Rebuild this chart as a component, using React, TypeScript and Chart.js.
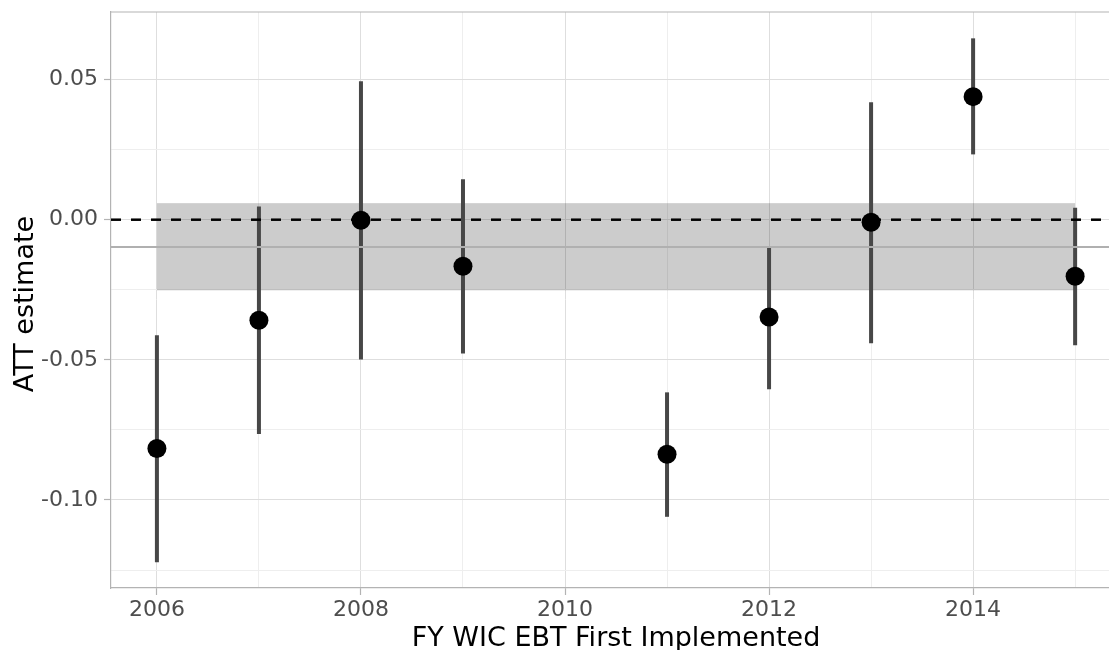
import React, { useEffect, useRef } from "react";
import { Chart, registerables } from "chart.js";

Chart.register(...registerables);

// ---- data ----
const years = [2006, 2007, 2008, 2009, 2011, 2012, 2013, 2014, 2015];
const attEstimate = [-0.0816, -0.0359, -0.0002, -0.0166, -0.0837, -0.0347, -0.0009, 0.0439, -0.0202];
const ciLower = [-0.1222, -0.0765, -0.0499, -0.0477, -0.106, -0.0605, -0.0441, 0.0233, -0.0448];
const ciUpper = [-0.0412, 0.0047, 0.0494, 0.0144, -0.0616, -0.0095, 0.0419, 0.0647, 0.0043];

const overallAtt = -0.0097;
const overallLower = -0.0252;
const overallUpper = 0.0059;
const bandYears = [2006, 2015];

const xTickValues = [2006, 2007, 2008, 2009, 2010, 2011, 2012, 2013, 2014, 2015];
const yTickValues = [-0.125, -0.1, -0.075, -0.05, -0.025, 0, 0.025, 0.05];

// visible x range (the panel continues past the right edge of the picture, to 2015.45)
const xRange = [2005.55, 2015.332];
const xPanelEnd = 2015.45;
const yRange = [-0.1314, 0.0741];

const xTitle = "FY WIC EBT First Implemented";
const yTitle = "ATT estimate";

const FONT = "'DejaVu Sans', sans-serif";
const MAJOR_GRID = "#dedede";
const MINOR_GRID = "#eeeeee";
const AXIS_GREY = "#b3b3b3";

const CANVAS_W = 1109;
const CANVAS_H = 650;

const isMajorY = (v: number) => Math.abs(Math.round(v / 0.05) * 0.05 - v) < 1e-9;
const isMajorX = (v: number) => Math.round(v) % 2 === 0;

const overlayPlugin = {
  id: "overlay",
  beforeDatasetsDraw(chart: any) {
    const { ctx, chartArea: a, scales } = chart;
    const x = scales.x;
    const y = scales.y;
    ctx.save();
    ctx.beginPath();
    ctx.rect(a.left, a.top, a.right - a.left, a.bottom - a.top);
    ctx.clip();

    // overall CI band
    const bx0 = x.getPixelForValue(bandYears[0]);
    const bx1 = x.getPixelForValue(bandYears[1]);
    const by0 = y.getPixelForValue(overallUpper);
    const by1 = y.getPixelForValue(overallLower);
    ctx.fillStyle = "rgba(0,0,0,0.2)";
    ctx.fillRect(bx0, by0, bx1 - bx0, by1 - by0);

    // error bars
    ctx.strokeStyle = "#474747";
    ctx.lineWidth = 4;
    ctx.lineCap = "butt";
    years.forEach((yr, i) => {
      const px = x.getPixelForValue(yr);
      ctx.beginPath();
      ctx.moveTo(px, y.getPixelForValue(ciUpper[i]));
      ctx.lineTo(px, y.getPixelForValue(ciLower[i]));
      ctx.stroke();
    });

    // overall ATT line
    const oy = y.getPixelForValue(overallAtt);
    ctx.strokeStyle = "#b0b0b0";
    ctx.lineWidth = 2;
    ctx.beginPath();
    ctx.moveTo(a.left, oy);
    ctx.lineTo(a.right, oy);
    ctx.stroke();

    // zero dashed line
    const zy = y.getPixelForValue(0);
    ctx.strokeStyle = "#000000";
    ctx.lineWidth = 2.5;
    ctx.setLineDash([10, 10]);
    ctx.beginPath();
    ctx.moveTo(a.left, zy);
    ctx.lineTo(a.right, zy);
    ctx.stroke();
    ctx.restore();
  },
  afterDraw(chart: any) {
    const { ctx, chartArea: a } = chart;
    ctx.save();
    // top border of the panel (left/bottom come from the axes)
    ctx.strokeStyle = AXIS_GREY;
    ctx.lineWidth = 1.2;
    ctx.beginPath();
    ctx.moveTo(a.left, a.top);
    ctx.lineTo(a.right, a.top);
    ctx.stroke();

    // axis titles (centred on the full panel, which runs past the picture edge)
    const x = chart.scales.x;
    const panelRight = x.getPixelForValue(xPanelEnd);
    ctx.fillStyle = "#000000";
    ctx.font = `27px ${FONT}`;
    ctx.textAlign = "center";
    ctx.textBaseline = "alphabetic";
    ctx.fillText(xTitle, (a.left + panelRight) / 2, 646);

    ctx.translate(33, (a.top + a.bottom) / 2 + 4);
    ctx.rotate(-Math.PI / 2);
    ctx.fillText(yTitle, 0, 0);
    ctx.restore();
  },
};

export default function App() {
  const canvasRef = useRef<HTMLCanvasElement | null>(null);

  useEffect(() => {
    if (!canvasRef.current) return;
    const chart = new Chart(canvasRef.current, {
      type: "scatter",
      data: {
        datasets: [
          {
            label: "ATT",
            data: years.map((yr, i) => ({ x: yr, y: attEstimate[i] })),
            backgroundColor: "#000000",
            borderWidth: 0,
            pointRadius: 9.5,
            pointHoverRadius: 9.5,
            clip: false,
          },
        ],
      },
      options: {
        responsive: false,
        maintainAspectRatio: false,
        animation: false,
        events: [],
        layout: { autoPadding: false, padding: { top: 12, left: 0, right: 0, bottom: 0 } },
        plugins: {
          legend: { display: false },
          tooltip: { enabled: false },
          title: { display: false },
        },
        scales: {
          x: {
            type: "linear",
            min: xRange[0],
            max: xRange[1],
            afterBuildTicks: (s: any) => {
              s.ticks = xTickValues.map((v) => ({ value: v }));
            },
            afterFit: (s: any) => {
              s.height = 62;
              s.paddingLeft = 0;
              s.paddingRight = 0;
            },
            ticks: {
              autoSkip: false,
              maxRotation: 0,
              minRotation: 0,
              padding: 2,
              color: "#4d4d4d",
              font: { family: FONT, size: 22 },
              callback: (v: any) => (isMajorX(Number(v)) ? String(v) : ""),
            },
            grid: {
              color: (c: any) => (c.tick && isMajorX(c.tick.value) ? MAJOR_GRID : MINOR_GRID),
              lineWidth: 1,
              drawTicks: true,
              tickLength: 7,
              tickWidth: 1.2,
              tickColor: (c: any) => (c.tick && isMajorX(c.tick.value) ? AXIS_GREY : "rgba(0,0,0,0)"),
            },
            border: { display: true, color: AXIS_GREY, width: 1.2 },
            title: { display: false },
          },
          y: {
            type: "linear",
            min: yRange[0],
            max: yRange[1],
            afterBuildTicks: (s: any) => {
              s.ticks = yTickValues.map((v) => ({ value: v }));
            },
            afterFit: (s: any) => {
              s.width = 111;
              s.paddingTop = 0;
              s.paddingBottom = 0;
            },
            ticks: {
              autoSkip: false,
              padding: 6,
              color: "#4d4d4d",
              font: { family: FONT, size: 22 },
              callback: (v: any) => (isMajorY(Number(v)) ? Number(v).toFixed(2) : ""),
            },
            grid: {
              color: (c: any) => (c.tick && isMajorY(c.tick.value) ? MAJOR_GRID : MINOR_GRID),
              lineWidth: 1,
              drawTicks: true,
              tickLength: 7,
              tickWidth: 1.2,
              tickColor: (c: any) => (c.tick && isMajorY(c.tick.value) ? AXIS_GREY : "rgba(0,0,0,0)"),
            },
            border: { display: true, color: AXIS_GREY, width: 1.2 },
            title: { display: false },
          },
        },
      },
      plugins: [overlayPlugin],
    } as any);
    return () => chart.destroy();
  }, []);

  return (
    <div
      style={{
        position: "absolute",
        left: 0,
        top: 0,
        width: CANVAS_W,
        height: CANVAS_H,
        overflow: "hidden",
        background: "#ffffff",
      }}
    >
      <canvas
        ref={canvasRef}
        width={CANVAS_W}
        height={CANVAS_H}
        style={{ display: "block", width: CANVAS_W, height: CANVAS_H }}
      />
    </div>
  );
}
